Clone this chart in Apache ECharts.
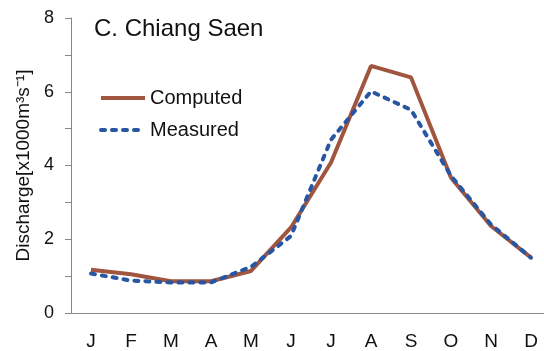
<!DOCTYPE html>
<html><head><meta charset="utf-8">
<script src="https://cdn.jsdelivr.net/npm/echarts@6/dist/echarts.min.js"></script>
<style>html,body{margin:0;padding:0;background:#fff;overflow:hidden}#c{width:560px;height:351px}</style>
</head><body><div id="c"></div>
<script>
const months = ['J','F','M','A','M','J','J','A','S','O','N','D'];
const computed = [1.17, 1.05, 0.86, 0.86, 1.14, 2.32, 4.08, 6.70, 6.39, 3.67, 2.36, 1.50];
const measured = [1.07, 0.88, 0.83, 0.83, 1.25, 2.09, 4.70, 6.01, 5.51, 3.72, 2.40, 1.50];
const yTicks = [0, 2, 4, 6, 8];
const chart = echarts.init(document.getElementById('c'));
const font = 'Liberation Sans, Arial, sans-serif';
const cColor = '#A0553F', mColor = '#2856A3';
chart.setOption({
  animation: false,
  title: { text: 'C. Chiang Saen', left: 89, top: 12,
    textStyle: { fontFamily: font, fontSize: 24, fontWeight: 'normal', color: '#111' } },
  legend: { orient: 'vertical', left: 94, top: 83, itemWidth: 44, itemHeight: 14, itemGap: 12,
    textStyle: { fontFamily: font, fontSize: 20, color: '#111' },
    itemStyle: { opacity: 0 },
    data: [
      { name: 'Computed', lineStyle: { width: 4, color: cColor } },
      { name: 'Measured', lineStyle: { width: 4, color: mColor, type: [4, 7], cap: 'round' } }
    ] },
  grid: { left: 71, right: 9, top: 18, bottom: 37 },
  xAxis: { type: 'category', data: months, boundaryGap: true,
    axisLine: { lineStyle: { color: '#888', width: 1 } },
    axisTick: { alignWithLabel: false, length: 6, lineStyle: { color: '#888' } },
    axisLabel: { fontFamily: font, fontSize: 19, color: '#111', margin: 19, interval: 0 } },
  yAxis: { type: 'value', min: 0, max: 8, interval: 1,
    name: 'Discharge[x1000m³s⁻¹]', nameLocation: 'middle', nameGap: 35, nameRotate: 90,
    nameTextStyle: { fontFamily: font, fontSize: 19, color: '#111' },
    splitLine: { show: false },
    axisLine: { show: true, lineStyle: { color: '#888', width: 1 } },
    axisTick: { show: true, length: 6, lineStyle: { color: '#888' } },
    axisLabel: { fontFamily: font, fontSize: 18, color: '#111', margin: 17,
      formatter: v => yTicks.includes(v) ? String(v) : '' } },
  series: [
    { name: 'Computed', type: 'line', data: computed, symbol: 'none',
      lineStyle: { color: cColor, width: 4 }, itemStyle: { color: cColor } },
    { name: 'Measured', type: 'line', data: measured, symbol: 'none',
      lineStyle: { color: mColor, width: 4, type: [4, 7], cap: 'round' }, itemStyle: { color: mColor } }
  ]
});
</script></body></html>
